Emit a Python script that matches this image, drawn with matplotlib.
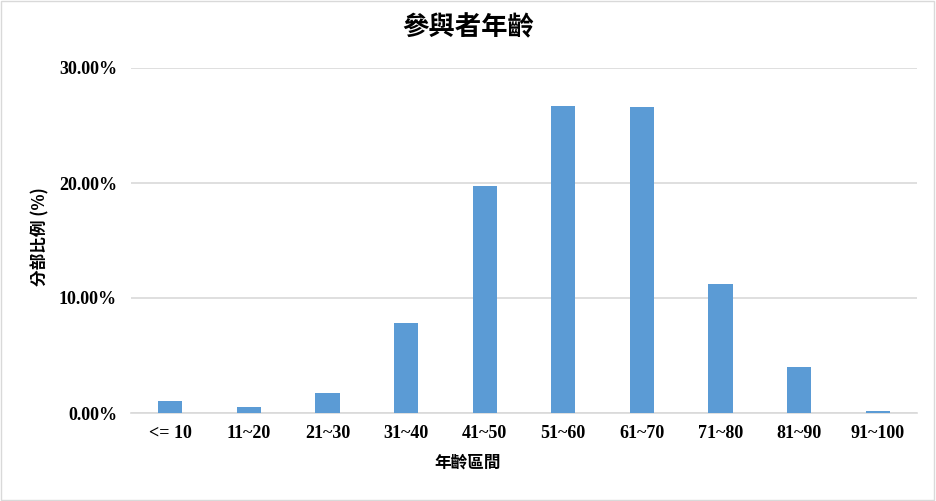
import matplotlib.pyplot as plt
from matplotlib.patches import Rectangle
from matplotlib.ticker import FuncFormatter

plt.rcParams['font.family'] = ['Liberation Serif', 'Noto Sans CJK TC']

age_groups = ['<= 10', '11~20', '21~30', '31~40', '41~50',
              '51~60', '61~70', '71~80', '81~90', '91~100']
share_pct = [1.04, 0.52, 1.74, 7.83, 19.74, 26.7, 26.6, 11.2, 4.0, 0.17]
y_ticks = [0, 10, 20, 30]

fig = plt.figure(figsize=(9.36, 5.01), dpi=100)
ax = fig.add_axes([131 / 936, 1 - 413 / 501, (917 - 131) / 936, (413 - 68) / 501])

x = range(len(age_groups))
ax.bar(x, share_pct, width=0.31, color='#5B9BD5', zorder=3)

ax.set_xlim(-0.5, len(age_groups) - 0.5)
ax.set_ylim(0, 30)
ax.set_yticks(y_ticks)
ax.yaxis.set_major_formatter(FuncFormatter(lambda v, p: f'{v:.2f}%'))
ax.set_xticks(list(x))
ax.set_xticklabels(age_groups)
ax.grid(axis='y', color='#d9d9d9', linewidth=1.2, zorder=0)
ax.tick_params(length=0, labelsize=13, pad=10)
ax.tick_params(axis='x', pad=9)
for lbl in ax.get_xticklabels() + ax.get_yticklabels():
    lbl.set_fontweight('bold')
for s in ['top', 'right', 'left']:
    ax.spines[s].set_visible(False)
ax.spines['bottom'].set_color('#d9d9d9')
ax.spines['bottom'].set_linewidth(1.2)

fig.text(0.5, 1 - 28 / 501, '參與者年齡', ha='center', va='center',
         fontsize=19, fontweight='bold', family=['Noto Sans CJK TC'])
fig.text(0.5, 1 - 463 / 501, '年齡區間', ha='center', va='center',
         fontsize=12, fontweight='bold', family=['Noto Sans CJK TC'])
fig.text(40 / 936, 1 - 237 / 501, '分部比例 (%)', ha='center', va='center',
         rotation=90, fontsize=12, fontweight='bold',
         family=['Noto Sans CJK TC', 'Liberation Serif'])

fig.patches.append(Rectangle((0.001, 0.002), 0.997, 0.996, transform=fig.transFigure,
                             fill=False, edgecolor='#d9d9d9', linewidth=1))

fig.savefig('out.png', dpi=100)
